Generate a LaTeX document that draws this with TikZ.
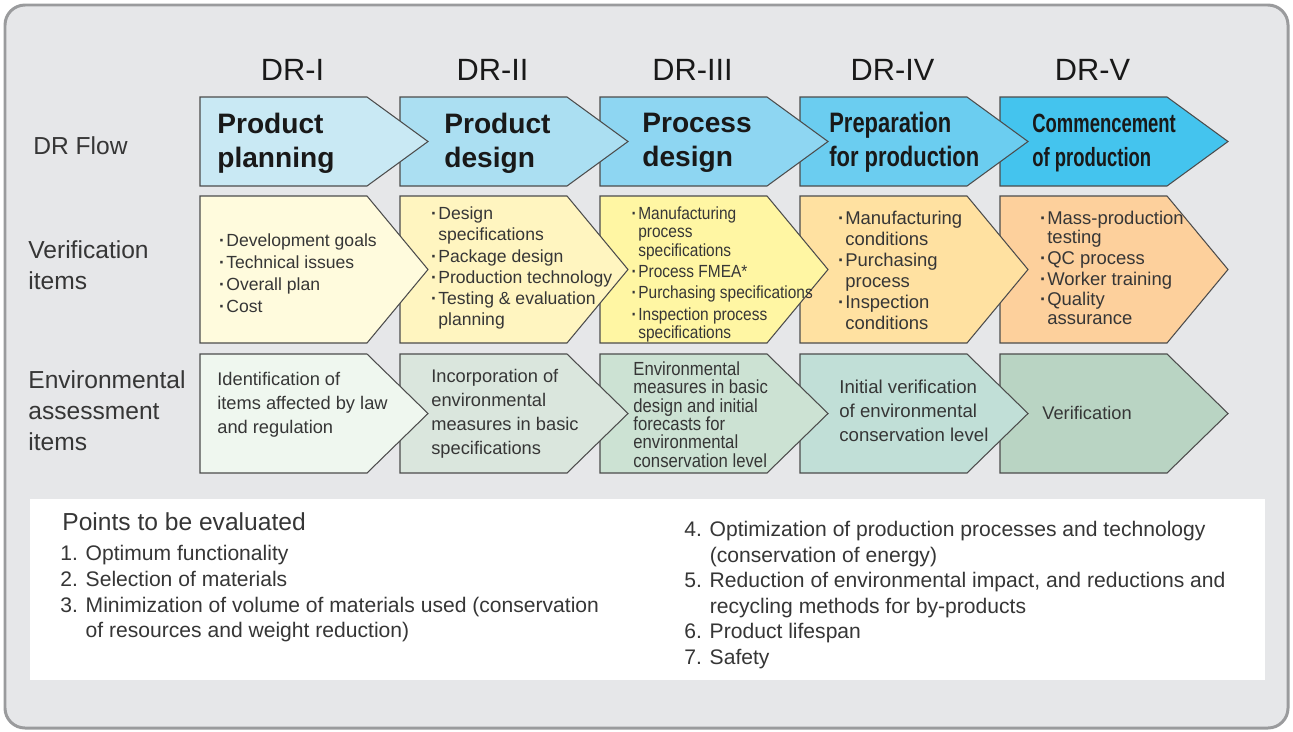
\documentclass[tikz,border=0pt]{standalone}
\usepackage{fontspec}
\setmainfont{Liberation Sans}
\newfontfamily\condfont[FakeStretch=0.88]{Liberation Sans}
\newfontfamily\narrowfont[FakeStretch=0.78]{Liberation Sans}
\newfontfamily\narrowerfont[FakeStretch=0.70]{Liberation Sans}

\definecolor{panelgray}{HTML}{E6E7E9}
\definecolor{framegray}{HTML}{9A9B9D}
\definecolor{ink}{HTML}{363636}
% DR flow row
\definecolor{flowA}{HTML}{C9E9F4}
\definecolor{flowB}{HTML}{ABDFF2}
\definecolor{flowC}{HTML}{8ED6F2}
\definecolor{flowD}{HTML}{6BCDF0}
\definecolor{flowE}{HTML}{44C4EE}
% verification row
\definecolor{checkA}{HTML}{FFFBDD}
\definecolor{checkB}{HTML}{FFF5C0}
\definecolor{checkC}{HTML}{FFF6A3}
\definecolor{checkD}{HTML}{FFE1A1}
\definecolor{checkE}{HTML}{FDD09C}
% environmental row
\definecolor{envA}{HTML}{EFF7EF}
\definecolor{envB}{HTML}{DAE6DD}
\definecolor{envC}{HTML}{CCE2D3}
\definecolor{envD}{HTML}{C1DFD7}
\definecolor{envE}{HTML}{B9D4C3}

\newcommand\bul{\makebox[0.17cm][c]{\textbf{·}}}
\newcommand\hang{\hspace*{0.17cm}}

\begin{document}
\begin{tikzpicture}[x=0.02cm, y=-0.02cm,
  stage/.style={draw=black!70, line width=0.6pt},
  txt/.style={anchor=west, align=left, inner sep=0pt, text=ink},
  head/.style={inner sep=0pt, text=black!90, font=\fontsize{17.5}{20}\selectfont},
  lab/.style={txt, font=\fontsize{14}{17.6}\selectfont},
  title/.style={txt, text=black!90, font=\fontsize{16}{19.4}\selectfont\bfseries},
  item/.style={txt, font=\fontsize{10}{12}\selectfont}
]
  \useasboundingbox (0,0) rectangle (1293,731);
  \draw[line width=1.7pt, draw=framegray, fill=panelgray, rounded corners=0.4cm]
    (5,5) rectangle (1288,728);

  % chevrons, right to left so each tip lies over the next stage
  \foreach \k/\c in {4/E,3/D,2/C,1/B,0/A}{
    \draw[stage, fill=flow\c]  (200*\k+200,97)  -- ++(167,0) -- ++(61,44.5) -- ++(-61,44.5) -- ++(-167,0) -- cycle;
    \draw[stage, fill=check\c] (200*\k+200,196) -- ++(167,0) -- ++(61,73.5) -- ++(-61,73.5) -- ++(-167,0) -- cycle;
    \draw[stage, fill=env\c]   (200*\k+200,354) -- ++(167,0) -- ++(61,59.5) -- ++(-61,59.5) -- ++(-167,0) -- cycle;
  }

  \foreach \k/\r in {0/I,1/II,2/III,3/IV,4/V}
    \node[head] (dr\r) at (200*\k+292.5,70) {DR-\r};

  % row labels
  \node[lab] (flowlab)  at (33,146) {DR Flow};
  \node[lab] (checklab) at (28,265.5) {Verification\\items};
  \node[lab] (envlab)   at (28,411) {Environmental\\assessment\\items};

  % DR flow
  \node[title] (planning) at (217,143) {Product\\planning};
  \node[title] (pdesign)  at (444,143) {Product\\design};
  \node[title] (prdesign) at (642,143) {Process\\design};
  \node[title, font=\narrowfont\fontsize{16}{19.4}\selectfont\bfseries]   (prep)  at (829,142.5)  {Preparation\\for production};
  \node[title, font=\narrowerfont\fontsize{15}{19.4}\selectfont\bfseries] (start) at (1032,143) {Commencement\\of production};

  % verification items
  \node[item, font=\fontsize{10}{12.5}\selectfont] (goals) at (217.5,273)
    {\bul Development goals\\\bul Technical issues\\\bul Overall plan\\\bul Cost};
  \node[item] (specs) at (429.5,268)
    {\bul Design\\\hang specifications\\\bul Package design\\\bul Production technology\\\bul Testing \& evaluation\\\hang planning};
  \node[item, font=\condfont\fontsize{10}{10.5}\selectfont] (procspec) at (629.5,274.5)
    {\bul Manufacturing\\\hang process\\\hang specifications\\[1.7pt]\bul Process FMEA*\\[1.7pt]\bul Purchasing specifications\\[1.7pt]\bul Inspection process\\\hang specifications};
  \node[item, font=\fontsize{10.5}{12}\selectfont] (conds) at (836.5,270.5)
    {\bul Manufacturing\\\hang conditions\\\bul Purchasing\\\hang process\\\bul Inspection\\\hang conditions};
  \node[item, font=\fontsize{10.5}{10.8}\selectfont] (mass) at (1038.5,268)
    {\bul Mass-production\\\hang testing\\[1.1pt]\bul QC process\\[1.1pt]\bul Worker training\\[1.1pt]\bul Quality\\\hang assurance};

  % environmental assessment items
  \node[item, font=\fontsize{10.4}{13.7}\selectfont] (law) at (217,405)
    {Identification of\\items affected by law\\and regulation};
  \node[item, font=\fontsize{10.4}{13.7}\selectfont] (basic) at (431,414)
    {Incorporation of\\environmental\\measures in basic\\specifications};
  \node[item, font=\condfont\fontsize{10.8}{10.5}\selectfont] (forecast) at (633,414.5)
    {Environmental\\measures in basic\\design and initial\\forecasts for\\environmental\\conservation level};
  \node[item, font=\fontsize{10.6}{13.7}\selectfont] (initial) at (839,411)
    {Initial verification\\of environmental\\conservation level};
  \node[item, font=\fontsize{10.4}{13.7}\selectfont] (verify) at (1042,413) {Verification};

  % points to be evaluated
  \fill[white] (30,499) rectangle (1265,680);
  \node[txt, font=\fontsize{14}{17}\selectfont] (points) at (62,522) {Points to be evaluated};
  \node[txt, font=\fontsize{12}{14.6}\selectfont] (pointsL) at (60,594)
    {1. Optimum functionality\\2. Selection of materials\\3. Minimization of volume of materials used (conservation\\\phantom{3. }of resources and weight reduction)};
  \node[txt, font=\fontsize{12}{14.5}\selectfont] (pointsR) at (684,595)
    {4. Optimization of production processes and technology\\\phantom{4. }(conservation of energy)\\5. Reduction of environmental impact, and reductions and\\\phantom{5. }recycling methods for by-products\\6. Product lifespan\\7. Safety};
\end{tikzpicture}
\end{document}
